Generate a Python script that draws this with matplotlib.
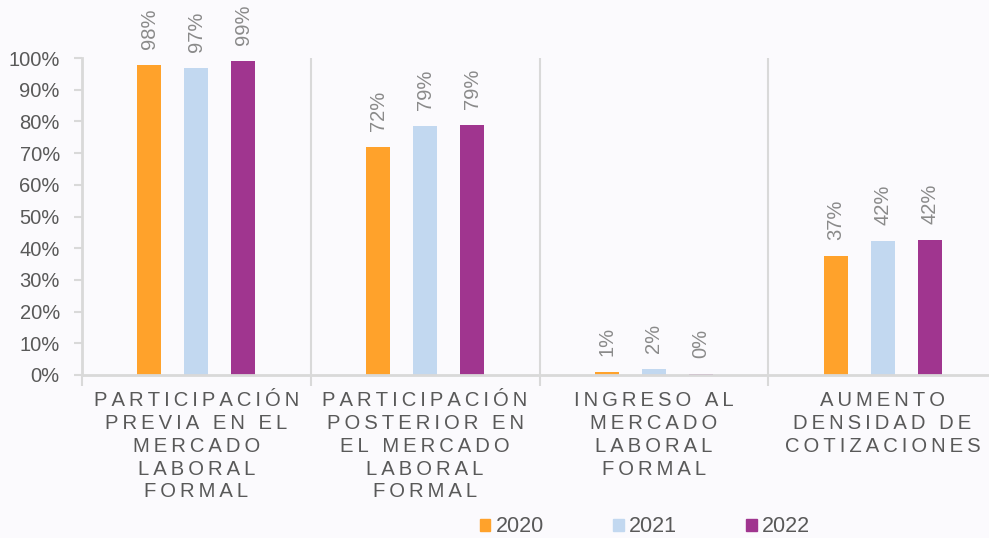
import matplotlib.pyplot as plt
from matplotlib.patches import Patch

plt.rcParams['font.family'] = ['Liberation Sans', 'DejaVu Sans']

categories = ["PARTICIPACIÓN\nPREVIA EN EL\nMERCADO\nLABORAL\nFORMAL",
              "PARTICIPACIÓN\nPOSTERIOR EN\nEL MERCADO\nLABORAL\nFORMAL",
              "INGRESO AL\nMERCADO\nLABORAL\nFORMAL",
              "AUMENTO\nDENSIDAD DE\nCOTIZACIONES"]
years = ["2020", "2021", "2022"]
v2020 = [97.8, 71.9, 0.9, 37.4]
v2021 = [96.8, 78.6, 1.9, 42.2]
v2022 = [99.2, 78.8, 0.3, 42.5]
lbl2020 = ["98%", "72%", "1%", "37%"]
lbl2021 = ["97%", "79%", "2%", "42%"]
lbl2022 = ["99%", "79%", "0%", "42%"]

colors = ['#FFA22B', '#C2D8F0', '#A0358F']
bg = '#fbfafd'
grid_c = '#d9d9d9'

def spaced(s):
    # fake letter spacing with thin spaces
    return "\n".join("\u2009".join(line) for line in s.split("\n"))

fig = plt.figure(figsize=(9.89, 5.38), dpi=100, facecolor=bg)
ax = fig.add_axes([82/989, 1-375/538, 915/989, 317/538], facecolor=bg)

x = list(range(len(categories)))
w = 0.105
off = 0.205
series = [(v2020, lbl2020), (v2021, lbl2021), (v2022, lbl2022)]
for k, (vals, lbls) in enumerate(series):
    pos = [i + (k-1)*off for i in x]
    ax.bar(pos, vals, width=w, color=colors[k], label=years[k])
    for p, v, t in zip(pos, vals, lbls):
        ax.annotate(t, (p, v), xytext=(0, 11.5), textcoords='offset points',
                    rotation=90, ha='center', va='bottom', fontsize=14.5,
                    color='#8a8a8a')

ax.set_xlim(-0.5, 3.5)
ax.set_ylim(0, 100)
ax.set_yticks(range(0, 101, 10))
ax.set_yticklabels([f"{t}%" for t in range(0, 101, 10)])
ax.tick_params(axis='y', length=6, width=1.5, color=grid_c, pad=10,
               labelsize=14.5, labelcolor='#595959')
ax.set_xticks([-0.5, 0.5, 1.5, 2.5, 3.5])
ax.set_xticklabels([])
ax.tick_params(axis='x', length=8, width=1.5, color=grid_c)
for b in [0.5, 1.5, 2.5]:
    ax.axvline(b, color=grid_c, lw=1.5, zorder=0)
for s in ['top', 'right']:
    ax.spines[s].set_visible(False)
for s in ['left', 'bottom']:
    ax.spines[s].set_color(grid_c)
    ax.spines[s].set_linewidth(2)

for i, c in enumerate(categories):
    ax.text(i, -5.0, spaced(c), ha='center', va='top', fontsize=14.6,
            color='#595959', linespacing=1.26)

handles = [Patch(color=colors[k], label=years[k]) for k in range(3)]
fig.legend(handles=handles, loc='center', bbox_to_anchor=(645/989, 1-527/538),
           ncol=3, frameon=False, fontsize=15.5, handlelength=0.5,
           handleheight=0.5, handletextpad=0.25, columnspacing=3.2,
           labelcolor='#595959')

fig.savefig('out.png', dpi=100, facecolor=bg)
